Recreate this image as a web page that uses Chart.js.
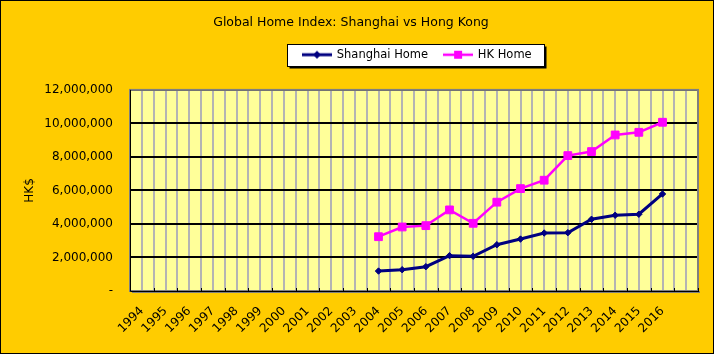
<!DOCTYPE html>
<html>
<head>
<meta charset="utf-8">
<script src="https://cdn.jsdelivr.net/npm/chart.js@4.4.0/dist/chart.umd.min.js"></script>
<style>
html,body{margin:0;padding:0;background:#FFCC00;}
canvas{display:block;}
</style>
</head>
<body>
<canvas id="c" width="714" height="354"></canvas>
<script>
// ---- data ----
const years = ['1994','1995','1996','1997','1998','1999','2000','2001','2002','2003','2004','2005','2006','2007','2008','2009','2010','2011','2012','2013','2014','2015','2016'];
const categories = years.concat(['']);
const shanghaiHome = [null,null,null,null,null,null,null,null,null,null,1190000,1270000,1450000,2110000,2070000,2760000,3100000,3460000,3480000,4280000,4520000,4580000,5790000,null];
const hkHome = [null,null,null,null,null,null,null,null,null,null,3240000,3820000,3900000,4840000,4040000,5300000,6110000,6610000,8080000,8320000,9310000,9470000,10070000,null];
const yTickValues = [0,2000000,4000000,6000000,8000000,10000000,12000000];
const titleText = 'Global Home Index: Shanghai vs Hong Kong';
const yAxisTitle = 'HK$';

const FONT = 'DejaVu Sans';
Chart.defaults.font.family = FONT;
Chart.defaults.font.size = 12;
Chart.defaults.color = '#000000';

function legendSymbol(color, style, lineW) {
  const cv = document.createElement('canvas');
  cv.width = 30; cv.height = 12;
  const g = cv.getContext('2d');
  g.strokeStyle = color; g.lineWidth = lineW;
  g.beginPath(); g.moveTo(0, 6); g.lineTo(30, 6); g.stroke();
  g.fillStyle = color;
  if (style === 'diamond') {
    g.beginPath(); g.moveTo(15, 2); g.lineTo(19, 6); g.lineTo(15, 10); g.lineTo(11, 6); g.closePath(); g.fill();
  } else {
    g.fillRect(11, 2, 8, 8);
  }
  return cv;
}
const symShanghai = legendSymbol('#000080', 'diamond', 3);
const symHK = legendSymbol('#FF00FF', 'square', 2.5);

const excelLook = {
  id: 'excelLook',
  afterLayout(chart) {
    const t = chart.titleBlock;
    if (t) {
      const dx = 351 - (t.left + t.right) / 2;
      t.left += dx; t.right += dx;
    }
    const lg = chart.legend;
    if (lg) {
      const p = lg.options.labels.padding;
      const dx = 303 - (lg.left + p);
      lg.left += dx; lg.right += dx;
      const dy = 49 - (lg.top + p);
      lg.top += dy; lg.bottom += dy;
    }
  },
  beforeDraw(chart) {
    const ctx = chart.ctx, a = chart.chartArea;
    ctx.save();
    ctx.fillStyle = '#FFCC00';
    ctx.fillRect(0, 0, chart.width, chart.height);
    ctx.fillStyle = '#FFFF99';
    ctx.fillRect(a.left, a.top, a.right - a.left, a.bottom - a.top);
    const lg = chart.legend;
    if (lg && lg.legendHitBoxes && lg.legendHitBoxes.length) {
      const hb = lg.legendHitBoxes;
      const first = hb[0], last = hb[hb.length - 1];
      const x0 = Math.round(first.left - 16) + 0.5;
      const x1 = Math.round(last.left + last.width + 12) + 0.5;
      const y0 = Math.round(first.top - 5) + 0.5;
      const y1 = Math.round(first.top + 17) + 0.5;
      ctx.fillStyle = '#000000';
      ctx.fillRect(x0 + 2, y0 + 2, x1 - x0, y1 - y0);
      ctx.fillStyle = '#FFFFFF';
      ctx.fillRect(x0, y0, x1 - x0, y1 - y0);
      ctx.strokeStyle = '#000000'; ctx.lineWidth = 1;
      ctx.strokeRect(x0, y0, x1 - x0, y1 - y0);
    }
    ctx.restore();
  },
  beforeDatasetsDraw(chart) {
    const ctx = chart.ctx, a = chart.chartArea;
    const xs = chart.scales.x;
    ctx.save();
    ctx.strokeStyle = '#808080'; ctx.lineWidth = 2;
    ctx.strokeRect(a.left, a.top, a.right - a.left, a.bottom - a.top);
    ctx.fillStyle = '#808080';
    ctx.fillRect(a.left + 2, a.bottom, a.right - a.left, 2);
    ctx.strokeStyle = '#000000'; ctx.lineWidth = 1;
    ctx.beginPath();
    ctx.moveTo(Math.round(a.left) + 0.5, a.top);
    ctx.lineTo(Math.round(a.left) + 0.5, Math.round(a.bottom) + 0.5);
    ctx.lineTo(a.right + 1, Math.round(a.bottom) + 0.5);
    ctx.stroke();
    const w = xs.getPixelForValue(1) - xs.getPixelForValue(0);
    ctx.beginPath();
    for (let i = 0; i <= categories.length; i++) {
      const x = Math.round(xs.getPixelForValue(i) - w / 2) + 0.5;
      ctx.moveTo(x, a.bottom - 3);
      ctx.lineTo(x, a.bottom);
    }
    ctx.stroke();
    ctx.restore();
  },
  afterDraw(chart) {
    const ctx = chart.ctx;
    ctx.save();
    ctx.strokeStyle = '#000000'; ctx.lineWidth = 1;
    ctx.strokeRect(0.5, 0.5, chart.width - 1, chart.height - 1);
    ctx.restore();
  }
};

new Chart(document.getElementById('c'), {
  type: 'line',
  data: {
    labels: categories,
    datasets: [
      {
        label: 'Shanghai Home',
        data: shanghaiHome,
        borderColor: '#000080',
        backgroundColor: '#000080',
        borderWidth: 3,
        pointStyle: 'rectRot',
        pointRadius: 3.2,
        pointBorderWidth: 1,
        pointBackgroundColor: '#000080',
        pointBorderColor: '#000080',
        tension: 0,
        fill: false
      },
      {
        label: 'HK Home',
        data: hkHome,
        borderColor: '#FF00FF',
        backgroundColor: '#FF00FF',
        borderWidth: 2.5,
        pointStyle: 'rect',
        pointRadius: 5.5,
        pointBorderWidth: 1,
        pointBackgroundColor: '#FF00FF',
        pointBorderColor: '#FF00FF',
        tension: 0,
        fill: false
      }
    ]
  },
  options: {
    responsive: false,
    animation: false,
    events: [],
    layout: { padding: { left: 0, right: 16, top: 0, bottom: 0 } },
    plugins: {
      title: {
        display: true,
        text: titleText,
        color: '#000000',
        font: { family: FONT, size: 12.5, weight: 'normal' },
        padding: { top: 15, bottom: 22.4 }
      },
      legend: {
        display: true,
        position: 'top',
        align: 'start',
        labels: {
          color: '#000000',
          font: { family: FONT, size: 11.5 },
          usePointStyle: true,
          pointStyleWidth: 28,
          boxHeight: 12,
          padding: 16,
          generateLabels(chart) {
            return chart.data.datasets.map((ds, i) => ({
              text: ds.label,
              fillStyle: ds.borderColor,
              strokeStyle: ds.borderColor,
              lineWidth: 0,
              pointStyle: i === 0 ? symShanghai : symHK,
              hidden: false,
              datasetIndex: i,
              fontColor: '#000000'
            }));
          }
        }
      },
      tooltip: { enabled: false }
    },
    scales: {
      x: {
        type: 'category',
        position: 'bottom',
        offset: true,
        afterFit(scale) { scale.height = 63; },
        grid: { display: true, offset: true, color: '#B4B4B4', lineWidth: 2, drawTicks: false },
        border: { display: false },
        ticks: {
          autoSkip: false,
          maxRotation: 45,
          minRotation: 45,
          padding: 13,
          color: '#000000',
          font: { family: FONT, size: 12 }
        }
      },
      x2: {
        type: 'category',
        position: 'bottom',
        offset: true,
        grid: { display: true, offset: false, color: '#B4B4B4', lineWidth: 2, drawTicks: false },
        border: { display: false },
        ticks: { display: false }
      },
      y: {
        type: 'linear',
        position: 'left',
        min: 0,
        max: 12000000,
        afterBuildTicks(scale) { scale.ticks = yTickValues.map(v => ({ value: v })); },
        afterFit(scale) { scale.width = 130; },
        grid: { color: '#000000', lineWidth: 2, drawTicks: false },
        border: { display: false },
        ticks: {
          padding: 17,
          color: '#000000',
          font: { family: FONT, size: 12 },
          callback(v) { return v === 0 ? '-' : Number(v).toLocaleString('en-US'); }
        },
        title: {
          display: true,
          text: yAxisTitle,
          color: '#000000',
          font: { family: FONT, size: 12 },
          padding: { top: 22.8, bottom: 4 }
        }
      }
    }
  },
  plugins: [excelLook]
});
</script>
</body>
</html>
